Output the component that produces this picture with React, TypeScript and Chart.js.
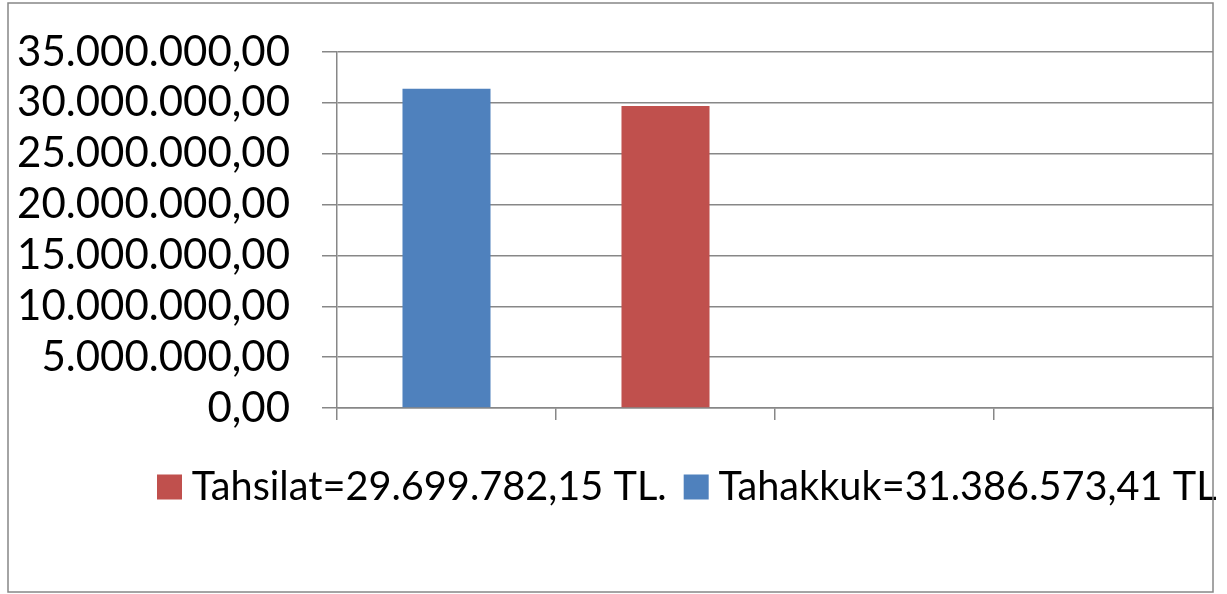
import { useEffect, useRef } from "react";
import { Chart, registerables } from "chart.js";

Chart.register(...registerables);

const categories = ["1", "2", "3", "4"];
const tahsilatValues = [null, 29699782.15, null, null];
const tahakkukValues = [31386573.41, null, null, null];
const seriesLabels = ["Tahsilat=29.699.782,15 TL.", "Tahakkuk=31.386.573,41 TL"];
const seriesColors = ["#C0504D", "#4F81BD"];
const yMin = 0;
const yMax = 35000000;
const yStep = 5000000;

function formatTR(v: number): string {
  const parts = v.toFixed(2).split(".");
  return parts[0].replace(/\B(?=(\d{3})+(?!\d))/g, ".") + "," + parts[1];
}

const FONT = "Lato";
const GRID = "#878787";
const LEGEND_FONT = 39.7;
const LEGEND_SHIFT = 140;

const borderPlugin = {
  id: "outerBorder",
  afterLayout(chart: any) {
    if (chart.legend) {
      chart.legend.left += LEGEND_SHIFT;
      chart.legend.right += LEGEND_SHIFT;
    }
  },
  afterDraw(chart: any) {
    const ctx = chart.ctx;
    ctx.save();
    ctx.strokeStyle = GRID;
    ctx.lineWidth = 1.5;
    ctx.strokeRect(8, 3, 1205, 589);
    ctx.restore();
  },
};

export default function App() {
  const ref = useRef<HTMLCanvasElement | null>(null);
  useEffect(() => {
    if (!ref.current) return;
    const chart = new Chart(ref.current, {
      type: "bar",
      data: {
        labels: categories,
        datasets: [
          { label: seriesLabels[0], data: tahsilatValues, backgroundColor: seriesColors[0] },
          { label: seriesLabels[1], data: tahakkukValues, backgroundColor: seriesColors[1] },
        ],
      },
      options: {
        responsive: false,
        animation: false,
        events: [],
        layout: { padding: { left: 0, right: 14, top: 52, bottom: 77.15 } },
        datasets: { bar: { grouped: false, barPercentage: 1, categoryPercentage: 0.402 } },
        plugins: {
          tooltip: { enabled: false },
          legend: {
            position: "bottom",
            align: "start",
            labels: {
              font: { family: FONT, size: LEGEND_FONT },
              color: "#000",
              boxWidth: 5,
              boxHeight: 5,
              padding: 27,
              generateLabels: (chart: any) =>
                chart.data.datasets.map((ds: any, i: number) => ({
                  text: ds.label,
                  fillStyle: ds.backgroundColor,
                  strokeStyle: ds.backgroundColor,
                  lineWidth: 20,
                  lineJoin: "miter",
                  hidden: false,
                  datasetIndex: i,
                  fontColor: "#000",
                })),
            },
          },
        },
        scales: {
          x: {
            afterFit: (s: any) => { s.height = 32.15; },
            ticks: { display: false },
            grid: { display: true, drawOnChartArea: false, color: GRID, lineWidth: 1.5, tickLength: 12, offset: true },
            border: { display: true, color: GRID, width: 1.5 },
          },
          y: {
            min: yMin,
            max: yMax,
            afterFit: (s: any) => {
              s.width = 337;
              s.paddingTop = 0;
              s.paddingBottom = 0;
            },
            ticks: {
              stepSize: yStep,
              autoSkip: false,
              padding: 32,
              color: "#000",
              font: { family: FONT, size: 42 },
              callback: (v: any) => formatTR(Number(v)),
            },
            grid: { color: GRID, lineWidth: 1.5, tickLength: 15 },
            border: { display: true, color: GRID, width: 1.5 },
          },
        },
      },
      plugins: [borderPlugin],
    });
    return () => chart.destroy();
  }, []);
  return (
    <div style={{ position: "absolute", left: 0, top: 0, width: 1227, height: 594, background: "#fff" }}>
      <canvas ref={ref} width={1227} height={594} />
    </div>
  );
}
